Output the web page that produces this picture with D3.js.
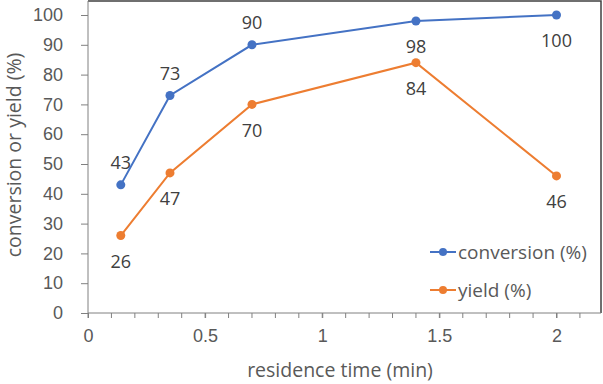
<!DOCTYPE html>
<html>
<head>
<meta charset="utf-8">
<script src="https://cdn.jsdelivr.net/npm/d3@7"></script>
<style>
  body { margin: 0; background: #fff; }
  svg { font-family: "Open Sans", sans-serif; }
  .tick text { fill: #595959; font-size: 18px; }
</style>
</head>
<body>
<div id="chart"></div>
<script>
var times = [0.14, 0.35, 0.7, 1.4, 2.0];
var conversion = [43, 73, 90, 98, 100];
var yieldPct = [26, 47, 70, 84, 46];
var xTicks = [0, 0.5, 1, 1.5, 2];
var yTicks = [0, 10, 20, 30, 40, 50, 60, 70, 80, 90, 100];

var width = 603, height = 384;
var margin = {top: 1, right: 2, bottom: 71, left: 88};

var x = d3.scaleLinear().domain([0, 2.19]).range([margin.left, width - margin.right]);
var y = d3.scaleLinear().domain([0, 100]).range([height - margin.bottom, 15]);

var svg = d3.select('#chart').append('svg')
            .attr('width', width)
            .attr('height', height);

// frame top + right
svg.append('path')
   .attr('d', 'M' + x(0) + ',' + margin.top + 'H' + x.range()[1] + 'V' + y(0))
   .attr('fill', 'none')
   .attr('stroke', '#404040')
   .attr('stroke-width', 1.5);

// minor x ticks
var minor = d3.range(0, 2.2, 0.1);
svg.append('g').selectAll('line')
   .data(minor)
   .enter().append('line')
   .attr('x1', function(d){return x(d);})
   .attr('x2', function(d){return x(d);})
   .attr('y1', y(0))
   .attr('y2', y(0) + 5)
   .attr('stroke', '#808080');

var xAxis = d3.axisBottom(x).tickValues(xTicks).tickSize(5).tickPadding(11)
              .tickFormat(function(d){return String(d);});
var yAxis = d3.axisLeft(y).tickValues(yTicks).tickSize(7).tickPadding(18);

var gx = svg.append('g').attr('transform', 'translate(0,' + y(0) + ')').call(xAxis);
var gy = svg.append('g').attr('transform', 'translate(' + x(0) + ',0)').call(yAxis);
gx.select('.domain').attr('stroke', '#808080').attr('d', 'M' + x(0) + ',0H' + x.range()[1]);
gy.select('.domain').attr('stroke', '#808080').attr('d', 'M0,' + margin.top + 'V' + y(0));
svg.selectAll('.tick line').attr('stroke', '#808080');

var series = [
  {name: 'conversion (%)', values: conversion, color: '#4472C4', labelPos: ['up', 'up', 'up', 'down', 'down']},
  {name: 'yield (%)', values: yieldPct, color: '#ED7D31', labelPos: ['down', 'down', 'down', 'down', 'down']}
];

var line = d3.line()
             .x(function(d){return x(d[0]);})
             .y(function(d){return y(d[1]);});

series.forEach(function(s){
  var pts = times.map(function(t, i){return [t, s.values[i]];});
  svg.append('path').attr('d', line(pts))
     .attr('fill', 'none').attr('stroke', s.color).attr('stroke-width', 2);
  svg.append('g').selectAll('circle')
     .data(pts).enter().append('circle')
     .attr('cx', function(d){return x(d[0]);})
     .attr('cy', function(d){return y(d[1]);})
     .attr('r', 4.5)
     .attr('fill', s.color);
  svg.append('g').selectAll('text')
     .data(pts).enter().append('text')
     .attr('x', function(d){return x(d[0]);})
     .attr('y', function(d, i){return y(d[1]) + (s.labelPos[i] === 'up' ? -22 : 26);})
     .attr('dy', '0.35em')
     .attr('text-anchor', 'middle')
     .attr('fill', '#404040')
     .attr('font-size', 18)
     .text(function(d){return d[1];});
});

// legend
var legend = svg.append('g');
series.forEach(function(s, i){
  var ly = 252 + i * 38;
  legend.append('line').attr('x1', 430).attr('x2', 456).attr('y1', ly).attr('y2', ly)
        .attr('stroke', s.color).attr('stroke-width', 2);
  legend.append('circle').attr('cx', 443).attr('cy', ly).attr('r', 4).attr('fill', s.color);
  legend.append('text').attr('x', 458).attr('y', ly).attr('dy', '0.35em')
        .attr('fill', '#595959').attr('font-size', 19).text(s.name);
});

// axis titles
svg.append('text')
   .attr('x', 340).attr('y', 370).attr('dy', '0.35em')
   .attr('text-anchor', 'middle')
   .attr('fill', '#595959').attr('font-size', 19.5)
   .text('residence time (min)');
svg.append('text')
   .attr('transform', 'translate(14,155) rotate(-90)')
   .attr('dy', '0.35em')
   .attr('text-anchor', 'middle')
   .attr('fill', '#595959').attr('font-size', 19.5)
   .text('conversion or yield (%)');
</script>
</body>
</html>
